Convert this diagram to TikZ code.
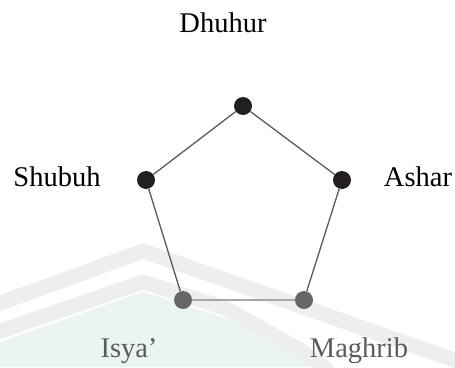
\documentclass[tikz,border=0pt]{standalone}
\usepackage{fontspec}
\setmainfont{Liberation Serif}
\definecolor{dotdark}{HTML}{231F20}
\definecolor{dotgray}{HTML}{676767}
\definecolor{edgedark}{HTML}{5A5A5A}
\definecolor{edgelight}{HTML}{A8A8A8}
\definecolor{labgray}{HTML}{5C5C5C}
\definecolor{wmgray}{HTML}{EEEEEE}
\definecolor{wmgreen}{HTML}{EAF5EF}
\tikzset{
  vdark/.style={circle, fill=dotdark, inner sep=0pt, minimum size=18pt},
  vgray/.style={circle, fill=dotgray, inner sep=0pt, minimum size=18pt},
  lab/.style={anchor=base, inner sep=0pt, font=\fontsize{28.5}{30}\selectfont},
  edark/.style={draw=edgedark, line width=1.3pt},
  elight/.style={draw=edgelight, line width=2.2pt},
  wmband/.style={draw=wmgray, line width=15pt, line join=round}
}
\begin{document}
\begin{tikzpicture}[x=1pt, y=-1pt]
\useasboundingbox (0,0) rectangle (455,367);
% faint watermark
\fill[wmgreen] (0,342) -- (143,292) -- (225,318) -- (325,367) -- (0,367) -- cycle;
\draw[wmband] (-5,305) -- (143,251) -- (460,362);
\draw[wmband] (-5,333) -- (143,282) -- (225,308) -- (300,350) -- (330,372);
% vertices
\node[vdark] (dh) at (243,106) {};
\node[vdark] (sh) at (146,180) {};
\node[vdark] (as) at (342,180) {};
\node[vgray] (is) at (183,300) {};
\node[vgray] (ma) at (304,300) {};
% edges
\draw[edark] (dh) -- (sh);
\draw[edark] (dh) -- (as);
\draw[edark] (sh) -- (is);
\draw[edark] (as) -- (ma);
\draw[elight] (is) -- (ma);
% labels
\node[lab] (ldh) at (223,32) {Dhuhur};
\node[lab] (lsh) at (57,186) {Shubuh};
\node[lab] (las) at (418,186) {Ashar};
\node[lab, text=labgray] (lis) at (129,357) {Isya’};
\node[lab, text=labgray] (lma) at (359,357) {Maghrib};
\end{tikzpicture}
\end{document}
